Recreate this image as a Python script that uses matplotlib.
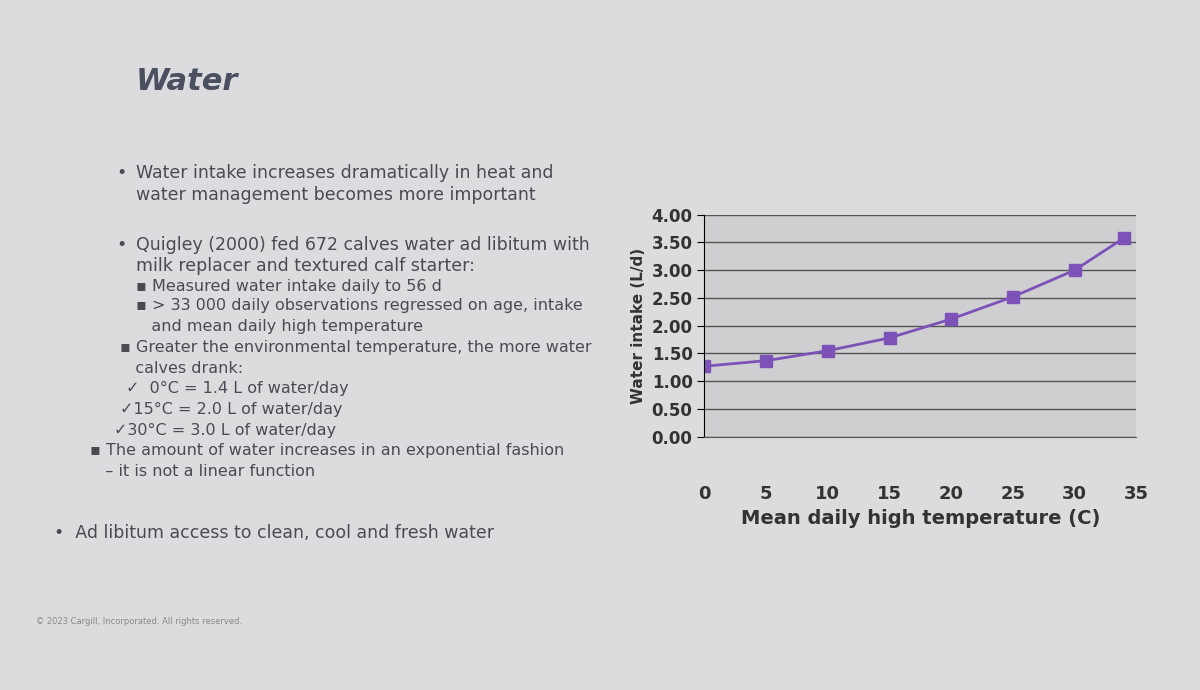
import matplotlib.pyplot as plt

temps = [0, 5, 10, 15, 20, 25, 30, 34]
intake = [1.27, 1.37, 1.55, 1.78, 2.12, 2.52, 3.00, 3.58]
yticks = [0.0, 0.5, 1.0, 1.5, 2.0, 2.5, 3.0, 3.5, 4.0]
xticks = [0, 5, 10, 15, 20, 25, 30, 35]

fig = plt.figure(figsize=(12, 6.9), dpi=100)
fig.patch.set_facecolor("#dcdcdf")

txt = "#4a4a52"
fig.text(0.113, 0.87, "Water", fontsize=22, fontweight="bold", style="italic", color="#4a5060")

lines = [
    (0.097, 0.742, "\u2022", 12.5),
    (0.113, 0.742, "Water intake increases dramatically in heat and", 12.5),
    (0.113, 0.71, "water management becomes more important", 12.5),
    (0.097, 0.637, "\u2022", 12.5),
    (0.113, 0.637, "Quigley (2000) fed 672 calves water ad libitum with", 12.5),
    (0.113, 0.607, "milk replacer and textured calf starter:", 12.5),
    (0.113, 0.578, "\u25aa Measured water intake daily to 56 d", 11.5),
    (0.113, 0.55, "\u25aa > 33 000 daily observations regressed on age, intake", 11.5),
    (0.113, 0.52, "   and mean daily high temperature", 11.5),
    (0.10, 0.49, "\u25aa Greater the environmental temperature, the more water", 11.5),
    (0.10, 0.46, "   calves drank:", 11.5),
    (0.105, 0.43, "\u2713  0\u00b0C = 1.4 L of water/day", 11.5),
    (0.10, 0.40, "\u271315\u00b0C = 2.0 L of water/day", 11.5),
    (0.095, 0.37, "\u271330\u00b0C = 3.0 L of water/day", 11.5),
    (0.075, 0.34, "\u25aa The amount of water increases in an exponential fashion", 11.5),
    (0.075, 0.31, "   \u2013 it is not a linear function", 11.5),
    (0.045, 0.22, "\u2022  Ad libitum access to clean, cool and fresh water", 12.5),
]
for x, y, s, fs in lines:
    fig.text(x, y, s, fontsize=fs, color=txt)

fig.text(0.03, 0.095, "\u00a9 2023 Cargill, Incorporated. All rights reserved.", fontsize=6, color="#888888")

ax = fig.add_axes([0.587, 0.367, 0.36, 0.322])
ax.set_facecolor("#cfcfd2")
ax.plot(temps, intake, color="#7d52b8", marker="s", markersize=8, linewidth=2)
ax.set_xlim(0, 35)
ax.set_ylim(0, 4)
ax.set_yticks(yticks)
ax.set_yticklabels([f"{v:.2f}" for v in yticks], fontsize=12, fontweight="bold", color="#333333")
ax.set_xticks(xticks)
ax.set_xticklabels([str(v) for v in xticks], fontsize=13, fontweight="bold", color="#333333")
ax.tick_params(axis="x", length=0, pad=35)
ax.tick_params(axis="y", direction="out", length=5)
ax.grid(axis="y", color="#555555", linewidth=1)
ax.set_axisbelow(True)
for sp in ["top", "right"]:
    ax.spines[sp].set_visible(False)
ax.spines["bottom"].set_color("#555555")
ax.set_xlabel("Mean daily high temperature (C)", fontsize=14, fontweight="bold", color="#333333")
ax.set_ylabel("Water intake (L/d)", fontsize=11, fontweight="bold", color="#333333")

fig.savefig("out.png", dpi=100, facecolor=fig.get_facecolor())
